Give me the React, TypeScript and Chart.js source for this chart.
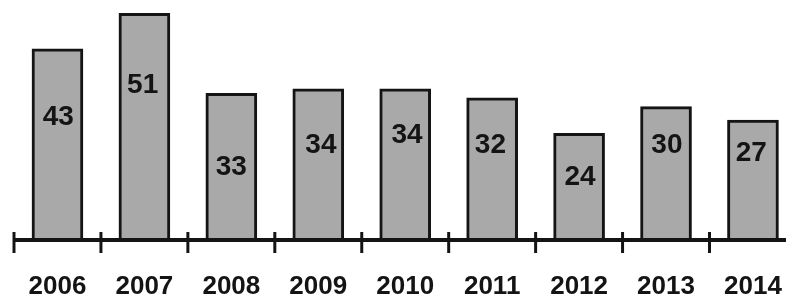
import React, { useEffect, useRef } from "react";
import { Chart, registerables } from "chart.js";

Chart.register(...registerables);

const categories = ["2006", "2007", "2008", "2009", "2010", "2011", "2012", "2013", "2014"];
const values = [43, 51, 33, 34, 34, 32, 24, 30, 27];
// height (in value units) at which each bar's value label sits
const labelAt = [27.7, 34.9, 16.4, 21.4, 23.6, 21.4, 14.0, 21.4, 19.6];
// small horizontal shift of each value label, in category units
const labelShift = [0.01, -0.02, 0, 0.03, 0.02, -0.02, 0.01, 0.01, -0.02];

const INK = "#141414";
const FONT = "'Liberation Sans', Arial, sans-serif";

const drawPlugin = {
  id: "scanDecor",
  afterDatasetsDraw(chart: any) {
    const { ctx, scales } = chart;
    const xs = scales.x;
    const ys = scales.y;
    const base = ys.getPixelForValue(0);
    ctx.save();
    // axis line
    ctx.strokeStyle = INK;
    ctx.lineWidth = 4;
    ctx.beginPath();
    ctx.moveTo(xs.getPixelForValue(-0.5) - 1, base);
    ctx.lineTo(chart.width, base);
    ctx.stroke();
    // tick marks at category boundaries
    ctx.lineWidth = 3;
    for (let i = 0; i <= categories.length; i++) {
      const px = xs.getPixelForValue(i - 0.5);
      ctx.beginPath();
      ctx.moveTo(px, base - 8);
      ctx.lineTo(px, base + 13);
      ctx.stroke();
    }
    // category labels
    ctx.fillStyle = INK;
    ctx.textAlign = "center";
    ctx.textBaseline = "middle";
    ctx.font = `bold 26px ${FONT}`;
    categories.forEach((c, i) => {
      ctx.fillText(c, xs.getPixelForValue(i), base + 47);
    });
    // value labels
    ctx.font = `bold 28px ${FONT}`;
    values.forEach((v, i) => {
      ctx.fillText(String(v), xs.getPixelForValue(i + labelShift[i]), ys.getPixelForValue(labelAt[i]));
    });
    ctx.restore();
  },
};

export default function App() {
  const ref = useRef<HTMLCanvasElement | null>(null);
  useEffect(() => {
    document.body.style.margin = "0";
    const canvas = ref.current!;
    const chart = new Chart(canvas, {
      type: "bar",
      data: {
        datasets: [
          {
            data: values.map((v, i) => ({ x: i, y: v })),
            backgroundColor: "#a9a9a9",
            borderColor: INK,
            borderWidth: 3,
            barThickness: 51,
            borderSkipped: "bottom",
          },
        ],
      },
      options: {
        animation: false,
        responsive: false,
        maintainAspectRatio: false,
        layout: { padding: { left: 14, right: 0, top: 0, bottom: 59 } },
        plugins: { legend: { display: false }, tooltip: { enabled: false } },
        scales: {
          x: { type: "linear", min: -0.5, max: 8.38, offset: false, display: false },
          y: { min: 0, max: 54, display: false },
        },
      },
      plugins: [drawPlugin],
    });
    return () => chart.destroy();
  }, []);
  return (
    <div style={{ position: "absolute", left: 0, top: 0, width: 786, height: 299, background: "#fff" }}>
      <canvas ref={ref} width={786} height={299} style={{ display: "block" }} />
    </div>
  );
}
